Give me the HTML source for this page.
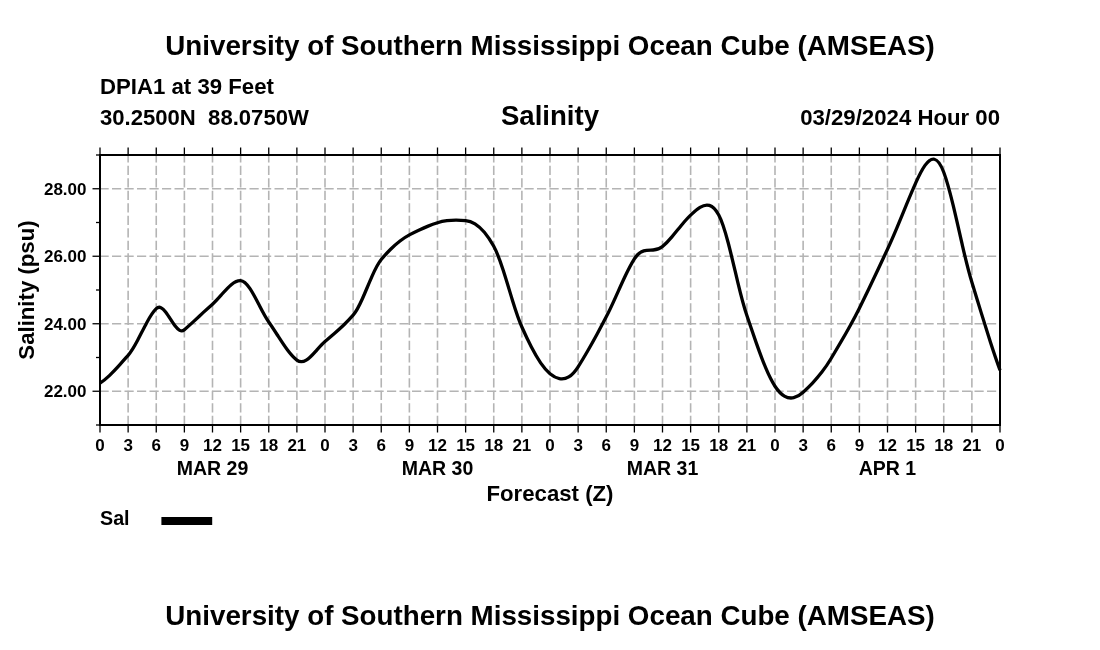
<!DOCTYPE html>
<html lang="en"><head><meta charset="utf-8"><title>Salinity forecast DPIA1</title>
<style>html,body{margin:0;padding:0;background:#fff}svg{display:block}text{font-family:"Liberation Sans",Arial,Helvetica,sans-serif;font-weight:bold;fill:#000}.t1{font-size:27.75px}.t2{font-size:22.2px}.t3{font-size:27.6px}.tk{font-size:17px}.dl{font-size:19.5px}.ax{font-size:22.2px}.lg{font-size:19.7px}</style></head><body>
<svg width="1100" height="650" viewBox="0 0 1100 650">
<rect width="1100" height="650" fill="#fff"/>
<g stroke="#b4b4b4" stroke-width="1.6" stroke-dasharray="9.2 3.3" fill="none">
<path d="M128.125 425.0 V155.0"/>
<path d="M156.250 425.0 V155.0"/>
<path d="M184.375 425.0 V155.0"/>
<path d="M212.500 425.0 V155.0"/>
<path d="M240.625 425.0 V155.0"/>
<path d="M268.750 425.0 V155.0"/>
<path d="M296.875 425.0 V155.0"/>
<path d="M325.000 425.0 V155.0"/>
<path d="M353.125 425.0 V155.0"/>
<path d="M381.250 425.0 V155.0"/>
<path d="M409.375 425.0 V155.0"/>
<path d="M437.500 425.0 V155.0"/>
<path d="M465.625 425.0 V155.0"/>
<path d="M493.750 425.0 V155.0"/>
<path d="M521.875 425.0 V155.0"/>
<path d="M550.000 425.0 V155.0"/>
<path d="M578.125 425.0 V155.0"/>
<path d="M606.250 425.0 V155.0"/>
<path d="M634.375 425.0 V155.0"/>
<path d="M662.500 425.0 V155.0"/>
<path d="M690.625 425.0 V155.0"/>
<path d="M718.750 425.0 V155.0"/>
<path d="M746.875 425.0 V155.0"/>
<path d="M775.000 425.0 V155.0"/>
<path d="M803.125 425.0 V155.0"/>
<path d="M831.250 425.0 V155.0"/>
<path d="M859.375 425.0 V155.0"/>
<path d="M887.500 425.0 V155.0"/>
<path d="M915.625 425.0 V155.0"/>
<path d="M943.750 425.0 V155.0"/>
<path d="M971.875 425.0 V155.0"/>
<path d="M99.5 391.25 H1000.0"/>
<path d="M99.5 323.75 H1000.0"/>
<path d="M99.5 256.25 H1000.0"/>
<path d="M99.5 188.75 H1000.0"/>
</g>
<path d="M100.00 383.20C103.12 381.14 106.25 378.54 109.38 375.59C112.50 372.64 115.62 369.34 118.75 365.89C121.88 362.45 125.00 358.85 128.12 355.30C131.25 351.75 134.38 346.39 137.50 340.50C140.62 334.60 143.75 328.16 146.88 322.43C150.00 316.71 153.12 311.71 156.25 308.68C159.38 305.65 162.50 307.88 165.62 311.90C168.75 315.92 171.88 321.73 175.00 325.86C178.12 329.99 181.25 332.44 184.38 329.75C187.50 327.06 190.62 324.24 193.75 321.36C196.88 318.49 200.00 315.56 203.12 312.66C206.25 309.77 209.38 306.91 212.50 304.16C215.62 301.41 218.75 297.82 221.88 294.28C225.00 290.73 228.12 287.23 231.25 284.66C234.38 282.10 237.50 280.46 240.62 280.64C243.75 280.82 246.88 284.01 250.00 288.67C253.12 293.33 256.25 299.47 259.38 305.53C262.50 311.60 265.62 317.61 268.75 322.01C271.88 326.41 275.00 331.34 278.12 336.21C281.25 341.08 284.38 345.89 287.50 350.07C290.62 354.24 293.75 357.78 296.88 360.11C300.00 362.44 303.12 362.01 306.25 360.11C309.38 358.22 312.50 354.86 315.62 351.31C318.75 347.76 321.88 344.03 325.00 341.40C328.12 338.77 331.25 336.16 334.38 333.45C337.50 330.75 340.62 327.95 343.75 324.94C346.88 321.92 350.00 318.70 353.12 315.14C356.25 311.58 359.38 305.48 362.50 298.49C365.62 291.51 368.75 283.66 371.88 276.61C375.00 269.55 378.12 263.30 381.25 259.53C384.38 255.76 387.50 252.32 390.62 249.22C393.75 246.13 396.88 243.38 400.00 240.98C403.12 238.58 406.25 236.53 409.38 234.85C412.50 233.17 415.62 231.60 418.75 230.14C421.88 228.68 425.00 227.33 428.12 226.10C431.25 224.87 434.38 223.75 437.50 222.75C440.62 221.75 443.75 221.09 446.88 220.69C450.00 220.28 453.12 220.13 456.25 220.14C459.38 220.15 462.50 220.31 465.62 220.54C468.75 220.77 471.88 221.84 475.00 223.78C478.12 225.73 481.25 228.55 484.38 232.29C487.50 236.03 490.62 240.69 493.75 246.31C496.88 251.93 500.00 260.41 503.12 270.02C506.25 279.62 509.38 290.34 512.50 300.42C515.62 310.51 518.75 319.95 521.88 327.00C525.00 334.05 528.12 340.73 531.25 346.79C534.38 352.85 537.50 358.29 540.62 362.85C543.75 367.41 546.88 371.10 550.00 373.67C553.12 376.24 556.25 377.98 559.38 378.61C562.50 379.24 565.62 378.77 568.75 376.90C571.88 375.03 575.00 371.77 578.12 366.83C581.25 361.89 584.38 356.68 587.50 351.27C590.62 345.85 593.75 340.23 596.88 334.47C600.00 328.71 603.12 322.80 606.25 316.82C609.38 310.84 612.50 304.06 615.62 297.13C618.75 290.20 621.88 283.12 625.00 276.54C628.12 269.95 631.25 263.86 634.38 258.90C637.50 253.94 640.62 251.80 643.75 250.86C646.88 249.91 650.00 250.16 653.12 249.99C656.25 249.82 659.38 249.23 662.50 246.60C665.62 243.97 668.75 240.57 671.88 236.88C675.00 233.20 678.12 229.22 681.25 225.43C684.38 221.64 687.50 218.03 690.62 215.09C693.75 212.15 696.88 209.25 700.00 207.32C703.12 205.39 706.25 204.44 709.38 205.40C712.50 206.36 715.62 209.23 718.75 214.95C721.88 220.67 725.00 230.70 728.12 242.54C731.25 254.39 734.38 268.06 737.50 281.06C740.62 294.05 743.75 306.38 746.88 315.53C750.00 324.68 753.12 334.00 756.25 342.88C759.38 351.76 762.50 360.21 765.62 367.63C768.75 375.05 771.88 381.45 775.00 386.23C778.12 391.01 781.25 394.23 784.38 396.08C787.50 397.94 790.62 398.42 793.75 397.71C796.88 397.00 800.00 395.11 803.12 392.22C806.25 389.33 809.38 386.33 812.50 383.04C815.62 379.75 818.75 376.17 821.88 372.10C825.00 368.03 828.12 363.47 831.25 358.24C834.38 353.01 837.50 347.79 840.62 342.46C843.75 337.14 846.88 331.70 850.00 326.03C853.12 320.37 856.25 314.47 859.38 308.21C862.50 301.95 865.62 295.53 868.75 289.01C871.88 282.49 875.00 275.86 878.12 269.20C881.25 262.54 884.38 255.85 887.50 249.18C890.62 242.51 893.75 235.29 896.88 227.84C900.00 220.40 903.12 212.73 906.25 205.17C909.38 197.62 912.50 190.17 915.62 183.17C918.75 176.17 921.88 169.83 925.00 165.42C928.12 161.02 931.25 158.54 934.38 159.26C937.50 159.98 940.62 163.90 943.75 172.29C946.88 180.68 950.00 192.31 953.12 205.21C956.25 218.12 959.38 232.31 962.50 245.80C965.62 259.30 968.75 272.10 971.88 282.25C975.00 292.40 978.12 302.70 981.25 312.88C984.38 323.06 987.50 333.12 990.62 342.76C993.75 352.41 996.88 361.65 1000.00 370.20" fill="none" stroke="#000" stroke-width="3.3" stroke-linejoin="round" stroke-linecap="butt"/>
<rect x="100.0" y="155.0" width="900.0" height="270.0" fill="none" stroke="#000" stroke-width="2"/>
<g stroke="#000" stroke-width="1.3" fill="none">
<path d="M100.000 425.0 v7.5M100.000 155.0 v-7.5"/>
<path d="M128.125 425.0 v7.5M128.125 155.0 v-7.5"/>
<path d="M156.250 425.0 v7.5M156.250 155.0 v-7.5"/>
<path d="M184.375 425.0 v7.5M184.375 155.0 v-7.5"/>
<path d="M212.500 425.0 v7.5M212.500 155.0 v-7.5"/>
<path d="M240.625 425.0 v7.5M240.625 155.0 v-7.5"/>
<path d="M268.750 425.0 v7.5M268.750 155.0 v-7.5"/>
<path d="M296.875 425.0 v7.5M296.875 155.0 v-7.5"/>
<path d="M325.000 425.0 v7.5M325.000 155.0 v-7.5"/>
<path d="M353.125 425.0 v7.5M353.125 155.0 v-7.5"/>
<path d="M381.250 425.0 v7.5M381.250 155.0 v-7.5"/>
<path d="M409.375 425.0 v7.5M409.375 155.0 v-7.5"/>
<path d="M437.500 425.0 v7.5M437.500 155.0 v-7.5"/>
<path d="M465.625 425.0 v7.5M465.625 155.0 v-7.5"/>
<path d="M493.750 425.0 v7.5M493.750 155.0 v-7.5"/>
<path d="M521.875 425.0 v7.5M521.875 155.0 v-7.5"/>
<path d="M550.000 425.0 v7.5M550.000 155.0 v-7.5"/>
<path d="M578.125 425.0 v7.5M578.125 155.0 v-7.5"/>
<path d="M606.250 425.0 v7.5M606.250 155.0 v-7.5"/>
<path d="M634.375 425.0 v7.5M634.375 155.0 v-7.5"/>
<path d="M662.500 425.0 v7.5M662.500 155.0 v-7.5"/>
<path d="M690.625 425.0 v7.5M690.625 155.0 v-7.5"/>
<path d="M718.750 425.0 v7.5M718.750 155.0 v-7.5"/>
<path d="M746.875 425.0 v7.5M746.875 155.0 v-7.5"/>
<path d="M775.000 425.0 v7.5M775.000 155.0 v-7.5"/>
<path d="M803.125 425.0 v7.5M803.125 155.0 v-7.5"/>
<path d="M831.250 425.0 v7.5M831.250 155.0 v-7.5"/>
<path d="M859.375 425.0 v7.5M859.375 155.0 v-7.5"/>
<path d="M887.500 425.0 v7.5M887.500 155.0 v-7.5"/>
<path d="M915.625 425.0 v7.5M915.625 155.0 v-7.5"/>
<path d="M943.750 425.0 v7.5M943.750 155.0 v-7.5"/>
<path d="M971.875 425.0 v7.5M971.875 155.0 v-7.5"/>
<path d="M1000.000 425.0 v7.5M1000.000 155.0 v-7.5"/>
<path d="M100.0 425.00 h-4.0"/>
<path d="M100.0 391.25 h-7.5"/>
<path d="M100.0 357.50 h-4.0"/>
<path d="M100.0 323.75 h-7.5"/>
<path d="M100.0 290.00 h-4.0"/>
<path d="M100.0 256.25 h-7.5"/>
<path d="M100.0 222.50 h-4.0"/>
<path d="M100.0 188.75 h-7.5"/>
<path d="M100.0 155.00 h-4.0"/>
</g>
<text class="t1" x="550" y="54.7" text-anchor="middle">University of Southern Mississippi Ocean Cube (AMSEAS)</text>
<text class="t2" x="100" y="94.4">DPIA1 at 39 Feet</text>
<text class="t2" x="100" y="125" xml:space="preserve" style="white-space:pre;font-size:22.1px">30.2500N  88.0750W</text>
<text class="t3" x="550" y="125.3" text-anchor="middle">Salinity</text>
<text class="t2" x="1000" y="125.3" text-anchor="end">03/29/2024 Hour 00</text>
<text class="tk" x="86.5" y="397.25" text-anchor="end">22.00</text>
<text class="tk" x="86.5" y="329.75" text-anchor="end">24.00</text>
<text class="tk" x="86.5" y="262.25" text-anchor="end">26.00</text>
<text class="tk" x="86.5" y="194.75" text-anchor="end">28.00</text>
<text class="tk" x="100.000" y="451" text-anchor="middle">0</text>
<text class="tk" x="128.125" y="451" text-anchor="middle">3</text>
<text class="tk" x="156.250" y="451" text-anchor="middle">6</text>
<text class="tk" x="184.375" y="451" text-anchor="middle">9</text>
<text class="tk" x="212.500" y="451" text-anchor="middle">12</text>
<text class="tk" x="240.625" y="451" text-anchor="middle">15</text>
<text class="tk" x="268.750" y="451" text-anchor="middle">18</text>
<text class="tk" x="296.875" y="451" text-anchor="middle">21</text>
<text class="tk" x="325.000" y="451" text-anchor="middle">0</text>
<text class="tk" x="353.125" y="451" text-anchor="middle">3</text>
<text class="tk" x="381.250" y="451" text-anchor="middle">6</text>
<text class="tk" x="409.375" y="451" text-anchor="middle">9</text>
<text class="tk" x="437.500" y="451" text-anchor="middle">12</text>
<text class="tk" x="465.625" y="451" text-anchor="middle">15</text>
<text class="tk" x="493.750" y="451" text-anchor="middle">18</text>
<text class="tk" x="521.875" y="451" text-anchor="middle">21</text>
<text class="tk" x="550.000" y="451" text-anchor="middle">0</text>
<text class="tk" x="578.125" y="451" text-anchor="middle">3</text>
<text class="tk" x="606.250" y="451" text-anchor="middle">6</text>
<text class="tk" x="634.375" y="451" text-anchor="middle">9</text>
<text class="tk" x="662.500" y="451" text-anchor="middle">12</text>
<text class="tk" x="690.625" y="451" text-anchor="middle">15</text>
<text class="tk" x="718.750" y="451" text-anchor="middle">18</text>
<text class="tk" x="746.875" y="451" text-anchor="middle">21</text>
<text class="tk" x="775.000" y="451" text-anchor="middle">0</text>
<text class="tk" x="803.125" y="451" text-anchor="middle">3</text>
<text class="tk" x="831.250" y="451" text-anchor="middle">6</text>
<text class="tk" x="859.375" y="451" text-anchor="middle">9</text>
<text class="tk" x="887.500" y="451" text-anchor="middle">12</text>
<text class="tk" x="915.625" y="451" text-anchor="middle">15</text>
<text class="tk" x="943.750" y="451" text-anchor="middle">18</text>
<text class="tk" x="971.875" y="451" text-anchor="middle">21</text>
<text class="tk" x="1000.000" y="451" text-anchor="middle">0</text>
<text class="dl" x="212.50" y="474.6" text-anchor="middle">MAR 29</text>
<text class="dl" x="437.50" y="474.6" text-anchor="middle">MAR 30</text>
<text class="dl" x="662.50" y="474.6" text-anchor="middle">MAR 31</text>
<text class="dl" x="887.50" y="474.6" text-anchor="middle">APR 1</text>
<text class="ax" x="550" y="500.7" text-anchor="middle">Forecast (Z)</text>
<text class="ax" transform="translate(34 290) rotate(-90)" text-anchor="middle">Salinity (psu)</text>
<text class="lg" x="100" y="525.2">Sal</text>
<path d="M161.4 521.1 H212.2" stroke="#000" stroke-width="8" fill="none"/>
<text class="t1" x="550" y="624.7" text-anchor="middle">University of Southern Mississippi Ocean Cube (AMSEAS)</text>
</svg></body></html>
